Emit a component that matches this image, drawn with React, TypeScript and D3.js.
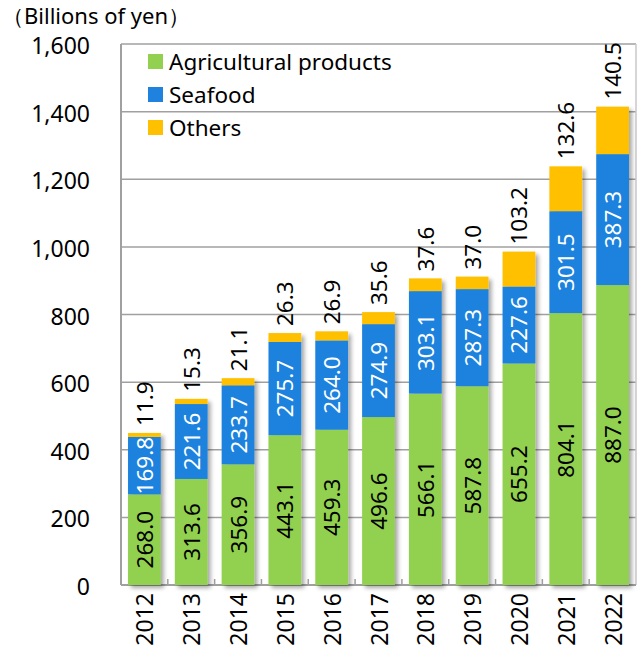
import React from "react";
import * as d3 from "d3";

const years = ["2012","2013","2014","2015","2016","2017","2018","2019","2020","2021","2022"];
const agri = [268.0, 313.6, 356.9, 443.1, 459.3, 496.6, 566.1, 587.8, 655.2, 804.1, 887.0];
const seafood = [169.8, 221.6, 233.7, 275.7, 264.0, 274.9, 303.1, 287.3, 227.6, 301.5, 387.3];
const others = [11.9, 15.3, 21.1, 26.3, 26.9, 35.6, 37.6, 37.0, 103.2, 132.6, 140.5];
const yTicks = [0, 200, 400, 600, 800, 1000, 1200, 1400, 1600];
const seriesNames = ["Agricultural products", "Seafood", "Others"];
const colors = ["#92D050", "#1F82DE", "#FFC000"];

const W = 643, H = 653;
const left = 121, right = 636, top = 44, bottom = 585;
const font = "'Noto Sans', 'Open Sans', sans-serif";

export default function App() {
  const x = d3.scaleBand().domain(years).range([left, right]).paddingInner(0.3).paddingOuter(0.15);
  const y = d3.scaleLinear().domain([0, 1600]).range([bottom, top]);
  const rows = years.map((yr, i) => ({ yr, vals: [agri[i], seafood[i], others[i]] }));
  const stack = d3.stack<any>().keys(["0", "1", "2"]).value((d: any, k: string) => d.vals[+k]);
  const series = stack(rows as any);
  const step = (right - left) / years.length;
  const bw = x.bandwidth();

  return (
    <svg width={W} height={H} style={{ position: "absolute", left: 0, top: 0, background: "#fff" }}>
      <defs>
        <filter id="sh" x="-20%" y="-20%" width="150%" height="150%">
          <feDropShadow dx="3" dy="3" stdDeviation="2" floodColor="#000" floodOpacity="0.35" />
        </filter>
      </defs>
      <rect x={0} y={0} width={W} height={H} fill="#fff" />
      {yTicks.map((t) => (
        <line key={t} x1={left} x2={right} y1={y(t)} y2={y(t)} stroke="#a0a0a0" strokeWidth={1.5} />
      ))}
      <line x1={left} x2={left} y1={top} y2={bottom} stroke="#a0a0a0" strokeWidth={2} />
      <line x1={right} x2={right} y1={top} y2={bottom} stroke="#c8c8c8" strokeWidth={1.5} />
      <line x1={left} x2={right} y1={bottom} y2={bottom} stroke="#a0a0a0" strokeWidth={2} />
      {years.slice(1).map((yr, i) => (
        <line key={yr} x1={left + step * (i + 1)} x2={left + step * (i + 1)} y1={bottom} y2={bottom - 6} stroke="#a0a0a0" strokeWidth={1.5} />
      ))}
      {yTicks.map((t) => (
        <text key={t} x={90} y={y(t) + 1} textAnchor="end" dominantBaseline="central" fontFamily={font} fontSize={23} fill="#000">
          {d3.format(",")(t)}
        </text>
      ))}
      <text x={2} y={15} fontFamily={font} fontSize={22} dominantBaseline="central" fill="#000">（Billions of yen）</text>
      <g filter="url(#sh)">
        {series.map((s, si) =>
          s.map((d: any, i: number) => (
            <rect key={si + "-" + i} x={x(years[i])!} y={y(d[1])} width={bw} height={y(d[0]) - y(d[1])} fill={colors[si]} />
          ))
        )}
      </g>
      {series.slice(0, 2).map((s, si) =>
        s.map((d: any, i: number) => {
          const cx = x(years[i])! + bw / 2;
          const cy = (y(d[0]) + y(d[1])) / 2;
          return (
            <text key={"l" + si + i} transform={`translate(${cx},${cy}) rotate(-90)`} textAnchor="middle" dominantBaseline="central"
              fontFamily={font} fontSize={22.5} fill={si === 0 ? "#000" : "#fff"}>
              {rows[i].vals[si].toFixed(1)}
            </text>
          );
        })
      )}
      {series[2].map((d: any, i: number) => {
        const cx = x(years[i])! + bw / 2;
        const cy = y(d[1]) - 7;
        return (
          <text key={"o" + i} transform={`translate(${cx},${cy}) rotate(-90)`} textAnchor="start" dominantBaseline="central"
            fontFamily={font} fontSize={22.5} fill="#000">
            {others[i].toFixed(1)}
          </text>
        );
      })}
      {years.map((yr) => (
        <text key={yr} transform={`translate(${x(yr)! + bw / 2},${bottom + 8}) rotate(-90)`} textAnchor="end" dominantBaseline="central"
          fontFamily={font} fontSize={23} fill="#000">
          {yr}
        </text>
      ))}
      {seriesNames.map((n, i) => (
        <g key={n}>
          <rect x={148} y={54 + i * 33} width={15} height={15} fill={colors[i]} />
          <text x={169} y={61 + i * 33} dominantBaseline="central" fontFamily={font} fontSize={22.5} fill="#000">{n}</text>
        </g>
      ))}
    </svg>
  );
}
